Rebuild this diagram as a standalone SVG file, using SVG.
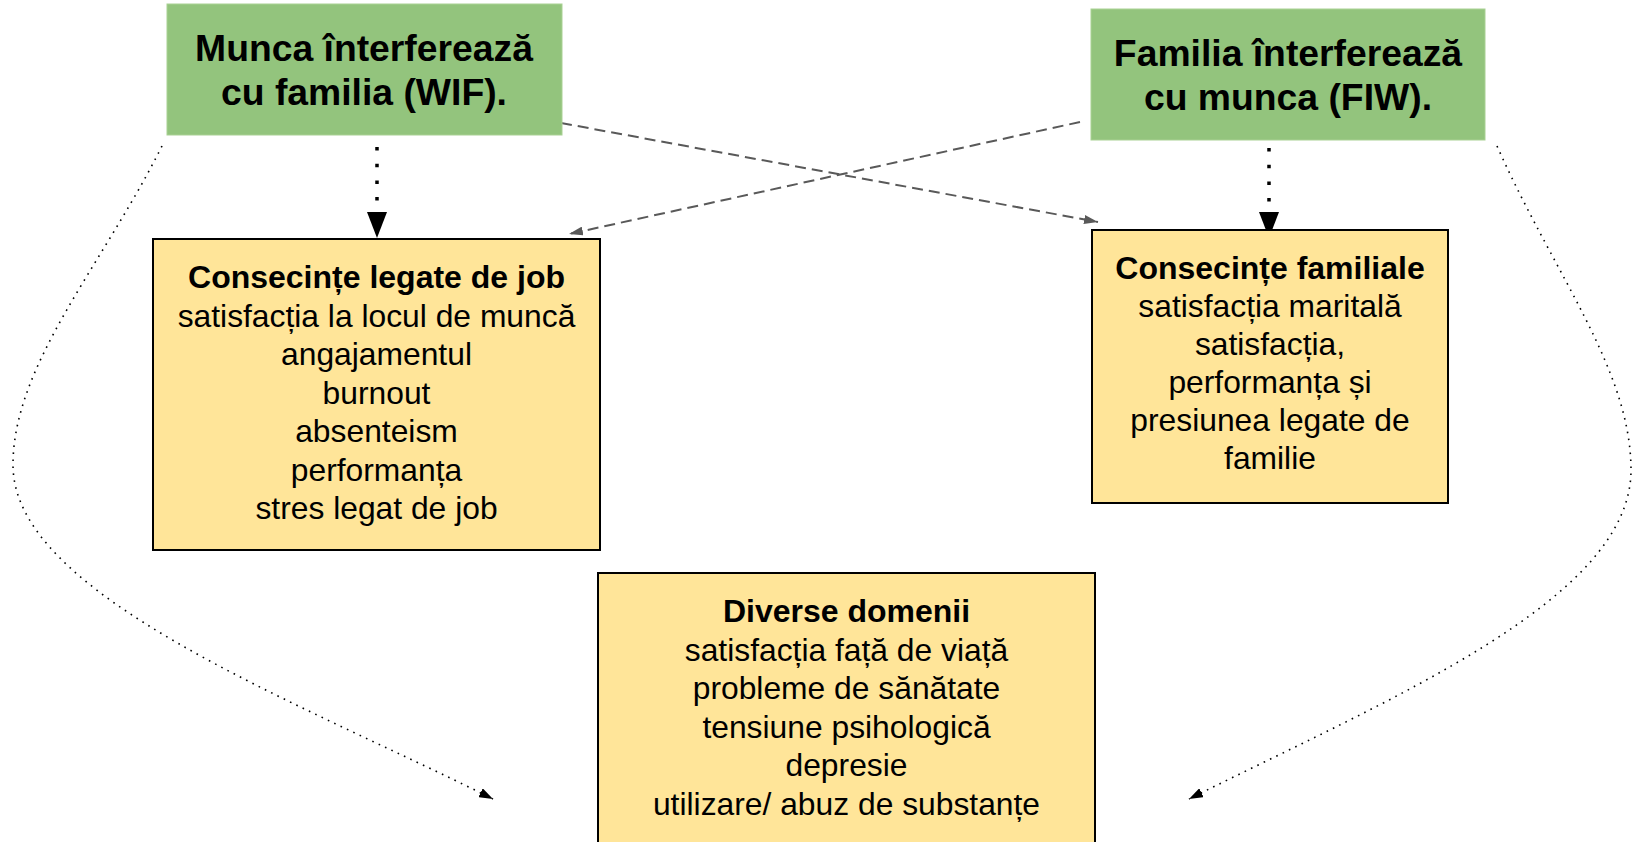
<svg xmlns="http://www.w3.org/2000/svg" width="1633" height="842" viewBox="0 0 1633 842">
<style>
.green{fill:#93c47d;stroke:#a9d194;stroke-width:1}
.yellow{fill:#ffe599;stroke:#000;stroke-width:2}
.t{font-family:"Liberation Sans",Arial,sans-serif;fill:#000;text-anchor:middle}
.h{font-size:37.3px;font-weight:bold}
.b{font-size:32px;font-weight:bold}
.r{font-size:31.8px}
.thick{fill:none;stroke:#000;stroke-width:3.5;stroke-dasharray:3.5 13.2}
.dash{fill:none;stroke:#595959;stroke-width:2;stroke-dasharray:11 6}
.dot{fill:none;stroke:#000;stroke-width:1.6;stroke-dasharray:1.6 5.4}
</style>
<defs>
<marker id="big" viewBox="0 0 26 20" refX="0" refY="10" markerWidth="26" markerHeight="20" markerUnits="userSpaceOnUse" orient="auto"><path d="M0,0 L26,10 L0,20 z" fill="#000"/></marker>
<marker id="gray" viewBox="0 0 14 9" refX="14" refY="4.5" markerWidth="14" markerHeight="9" markerUnits="userSpaceOnUse" orient="auto"><path d="M0,0 L14,4.5 L0,9 z" fill="#595959"/></marker>
<marker id="small" viewBox="0 0 14 10" refX="14" refY="5" markerWidth="14" markerHeight="10" markerUnits="userSpaceOnUse" orient="auto"><path d="M0,0 L14,5 L0,10 z" fill="#000"/></marker>
</defs>
<g id="connectors">
<path class="thick" d="M377,147 L377,212" marker-end="url(#big)"/>
<path class="thick" d="M1269,148 L1269,212" marker-end="url(#big)"/>
<path class="dash" d="M561,123 L1098,222" marker-end="url(#gray)"/>
<path class="dash" d="M1080,122 L569,234" marker-end="url(#gray)"/>
<path class="dot" d="M162,146 C102,266 13,365 13,465 C13,595 293,699 493,799" marker-end="url(#small)"/>
<path class="dot" d="M1497,146 C1555,276 1631,370 1631,470 C1631,600 1389,699 1189,799" marker-end="url(#small)"/>
</g>
<g id="wif">
<rect class="green" x="167" y="4" width="395" height="131"/>
<text class="t h" x="364" y="61">Munca înterferează</text>
<text class="t h" x="364" y="105">cu familia (WIF).</text>
</g>
<g id="fiw">
<rect class="green" x="1091" y="9" width="394" height="131"/>
<text class="t h" x="1288" y="66">Familia înterferează</text>
<text class="t h" x="1288" y="110">cu munca (FIW).</text>
</g>
<g id="job">
<rect class="yellow" x="153" y="239" width="447" height="311"/>
<text class="t b" x="376.5" y="288">Consecințe legate de job</text>
<text class="t r" x="376.5" y="326.5">satisfacția la locul de muncă</text>
<text class="t r" x="376.5" y="365">angajamentul</text>
<text class="t r" x="376.5" y="403.5">burnout</text>
<text class="t r" x="376.5" y="442">absenteism</text>
<text class="t r" x="376.5" y="480.5">performanța</text>
<text class="t r" x="376.5" y="519">stres legat de job</text>
</g>
<g id="family">
<rect class="yellow" x="1092" y="230" width="356" height="273"/>
<text class="t b" x="1270" y="279">Consecințe familiale</text>
<text class="t r" x="1270" y="317">satisfacția maritală</text>
<text class="t r" x="1270" y="355">satisfacția,</text>
<text class="t r" x="1270" y="393">performanța și</text>
<text class="t r" x="1270" y="431">presiunea legate de</text>
<text class="t r" x="1270" y="469">familie</text>
</g>
<g id="domains">
<rect class="yellow" x="598" y="573" width="497" height="300"/>
<text class="t b" x="846.5" y="622">Diverse domenii</text>
<text class="t r" x="846.5" y="660.5">satisfacția față de viață</text>
<text class="t r" x="846.5" y="699">probleme de sănătate</text>
<text class="t r" x="846.5" y="737.5">tensiune psihologică</text>
<text class="t r" x="846.5" y="776">depresie</text>
<text class="t r" x="846.5" y="814.5">utilizare/ abuz de substanțe</text>
</g>
</svg>
